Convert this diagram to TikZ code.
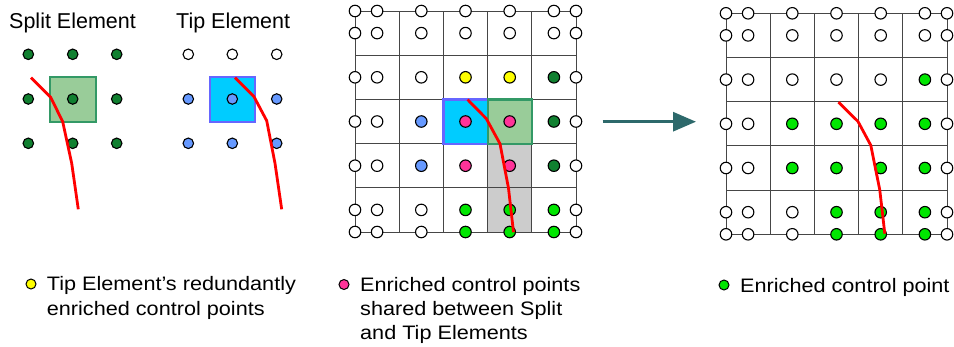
\documentclass[tikz,border=0pt]{standalone}
\usepackage{fontspec}
\setmainfont{Liberation Sans}
\newfontfamily\legfont[FakeStretch=1.11]{Liberation Sans}
\usetikzlibrary{arrows.meta}
\definecolor{dkgreen}{RGB}{16,128,48}
\definecolor{ltblue}{RGB}{102,153,255}
\definecolor{cpyellow}{RGB}{255,255,0}
\definecolor{cppink}{RGB}{255,51,153}
\definecolor{cpgreen}{RGB}{0,230,0}
\definecolor{tipfill}{RGB}{0,204,255}
\definecolor{tipedge}{RGB}{102,102,255}
\definecolor{splitfill}{RGB}{153,204,153}
\definecolor{splitedge}{RGB}{51,153,102}
\definecolor{crackred}{RGB}{255,0,0}
\definecolor{arrowteal}{RGB}{45,105,107}
\definecolor{gridline}{RGB}{70,70,70}
\newcommand\cpcol[2]{\expandafter\def\csname cpc-#1\endcsname{#2}}
% middle grid colours
\cpcol{m-3-4}{cpyellow}\cpcol{m-3-5}{cpyellow}\cpcol{m-3-6}{dkgreen}
\cpcol{m-4-3}{ltblue}\cpcol{m-4-4}{cppink}\cpcol{m-4-5}{cppink}\cpcol{m-4-6}{dkgreen}
\cpcol{m-5-3}{ltblue}\cpcol{m-5-4}{cppink}\cpcol{m-5-5}{cppink}\cpcol{m-5-6}{dkgreen}
\cpcol{m-6-4}{cpgreen}\cpcol{m-6-5}{cpgreen}\cpcol{m-6-6}{cpgreen}
\cpcol{m-7-4}{cpgreen}\cpcol{m-7-5}{cpgreen}\cpcol{m-7-6}{cpgreen}
% right grid colours
\cpcol{r-3-6}{cpgreen}
\cpcol{r-4-3}{cpgreen}\cpcol{r-4-4}{cpgreen}\cpcol{r-4-5}{cpgreen}\cpcol{r-4-6}{cpgreen}
\cpcol{r-5-3}{cpgreen}\cpcol{r-5-4}{cpgreen}\cpcol{r-5-5}{cpgreen}\cpcol{r-5-6}{cpgreen}
\cpcol{r-6-4}{cpgreen}\cpcol{r-6-5}{cpgreen}\cpcol{r-6-6}{cpgreen}
\cpcol{r-7-4}{cpgreen}\cpcol{r-7-5}{cpgreen}\cpcol{r-7-6}{cpgreen}
\tikzset{
  cp/.style={circle, draw=black, line width=1.1pt, minimum size=11.5pt, inner sep=0pt},
  cps/.style={cp, minimum size=10.5pt},
  legdot/.style={circle, draw=black, line width=1pt, minimum size=10pt, inner sep=0pt},
  crack/.style={draw=crackred, line width=2.8pt, line join=round},
  gridl/.style={draw=gridline, line width=1pt},
  tipsq/.style={fill=tipfill, draw=tipedge, line width=2.2pt},
  splitsq/.style={fill=splitfill, draw=splitedge, line width=2.2pt},
  title/.style={anchor=base west, inner sep=0pt, font=\fontsize{21.5}{26}\selectfont},
  legtext/.style={anchor=base west, inner sep=0pt, font=\legfont\fontsize{19.5}{24}\selectfont},
}
\begin{document}
\begin{tikzpicture}[x=1pt,y=-1pt]
\useasboundingbox (0,0) rectangle (954,346);
\fill[white] (0,0) rectangle (954,346);

% ---------- left: split and tip elements ----------
\node[title] (splittitle) at (9,28.3) {Split Element};
\node[title] (tiptitle) at (176,28.3) {Tip Element};

\filldraw[splitsq] (50,76.7) rectangle (95.7,121.7);
\foreach \x [count=\j] in {28.3,72.7,116.7}
  \foreach \y [count=\i] in {54.3,99,143.3}
    \node[cps, fill=dkgreen] (s-\i-\j) at (\x,\y) {};
\draw[crack] (31,77.7) -- (50.7,97.3) -- (62.7,121.7) -- (71.7,163.3) -- (78.3,209.3);

\filldraw[tipsq] (210,76.7) rectangle (255,121.7);
\foreach \x [count=\j] in {188.3,232.3,276.7} {
  \node[cps, fill=white] (t-1-\j) at (\x,54.3) {};
  \node[cps, fill=ltblue] (t-2-\j) at (\x,99) {};
  \node[cps, fill=ltblue] (t-3-\j) at (\x,143.3) {};
}
\draw[crack] (235,77.7) -- (254,96.7) -- (266.7,120.7) -- (275,163.3) -- (281.7,209.3);

% ---------- middle mesh ----------
\begin{scope}[shift={(355,11)}]
  \fill[gray!40] (132.6,132.6) rectangle (176.8,221);
  \foreach \k in {0,...,5} {
    \draw[gridl] (\k*44.2,0) -- (\k*44.2,221);
    \draw[gridl] (0,\k*44.2) -- (221,\k*44.2);
  }
  \filldraw[tipsq] (88.4,88.4) rectangle (132.6,132.6);
  \filldraw[splitsq] (132.6,88.4) rectangle (176.8,132.6);
  \foreach \x [count=\j] in {0,22.1,66.3,110.5,154.7,198.9,221} {
    \foreach \y [count=\i] in {0,22.1,66.3,110.5,154.7,198.9,221} {
      \edef\fc{\ifcsname cpc-m-\i-\j\endcsname\csname cpc-m-\i-\j\endcsname\else white\fi}
      \node[cp, fill=\fc] (m-\i-\j) at (\x,\y) {};
    }
  }
  \draw[crack] (112.6,88.6) -- (131.3,107.6) -- (145,132.8) -- (153.5,177.2) -- (158.5,221.2);
\end{scope}

% ---------- arrow ----------
\coordinate (arrS) at (602.7,121.7);
\coordinate (arrE) at (696,121.7);
\draw[arrowteal, line width=3pt, -{Triangle[length=23pt,width=19pt]}] (arrS) -- (arrE);

% ---------- right mesh ----------
\begin{scope}[shift={(726,13.3)}]
  \foreach \k in {0,...,5} {
    \draw[gridl] (\k*44.2,0) -- (\k*44.2,221);
    \draw[gridl] (0,\k*44.2) -- (221,\k*44.2);
  }
  \foreach \x [count=\j] in {0,22.1,66.3,110.5,154.7,198.9,221} {
    \foreach \y [count=\i] in {0,22.1,66.3,110.5,154.7,198.9,221} {
      \edef\fc{\ifcsname cpc-r-\i-\j\endcsname\csname cpc-r-\i-\j\endcsname\else white\fi}
      \node[cp, fill=\fc] (r-\i-\j) at (\x,\y) {};
    }
  }
  \draw[crack] (112.4,88.8) -- (132,108.2) -- (144.8,132) -- (153.8,176.8) -- (158.8,220.4);
\end{scope}

% ---------- legend ----------
\node[legdot, fill=cpyellow] (ly) at (31,284) {};
\node[legtext] (ly1) at (46.7,290.7) {Tip Element’s redundantly};
\node[legtext] (ly2) at (46.7,315) {enriched control points};

\node[legdot, fill=cppink] (lp) at (344,284.5) {};
\node[legtext] (lp1) at (360,291.3) {Enriched control points};
\node[legtext] (lp2) at (360,315.3) {shared between Split};
\node[legtext] (lp3) at (360,339.3) {and Tip Elements};

\node[legdot, fill=cpgreen] (lg) at (724,285) {};
\node[legtext] (lg1) at (740,292) {Enriched control point};
\end{tikzpicture}
\end{document}
